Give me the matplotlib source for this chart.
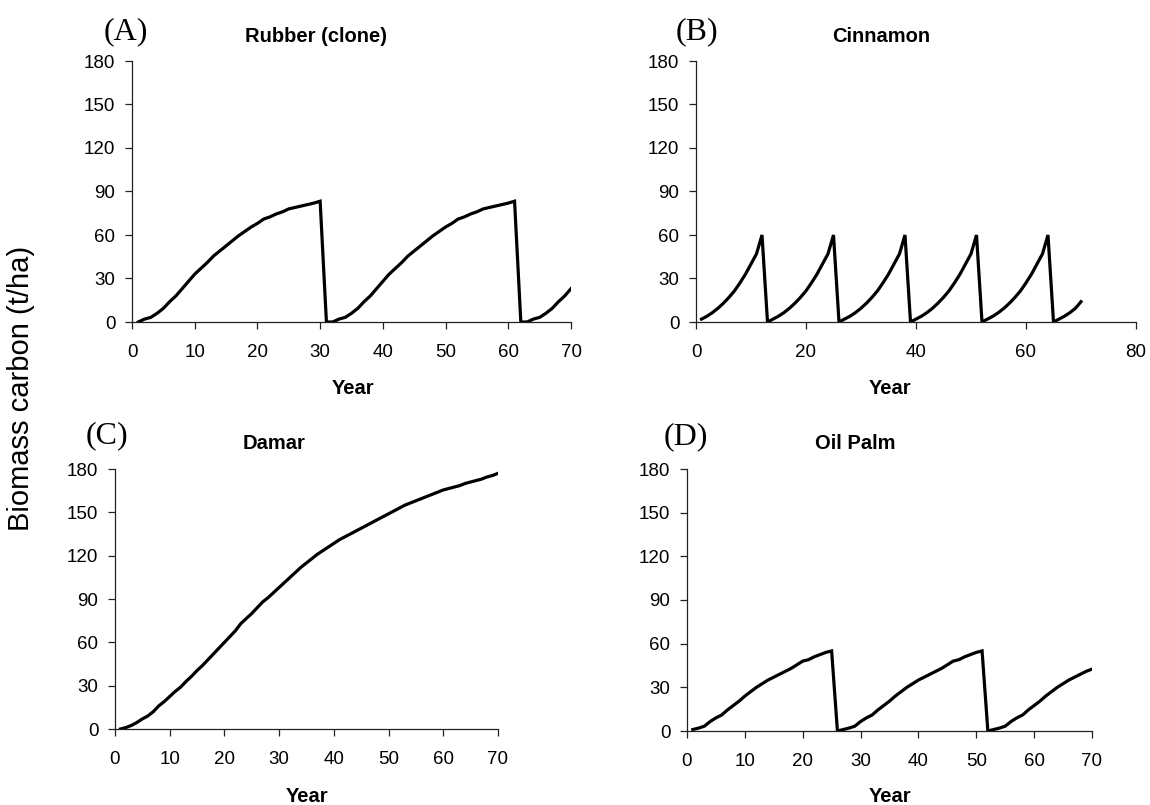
import matplotlib
matplotlib.use("Agg")
import matplotlib.pyplot as plt

plt.rcParams['font.family'] = ['Liberation Sans', 'DejaVu Sans']

years = list(range(1, 71))

rubber = [0, 2, 3.2, 6, 9.4, 14, 18, 23, 28, 33, 37, 41, 45.5, 49, 52.5, 56, 59.5, 62.5, 65.5, 68,
          71, 72.5, 74.5, 76, 78, 79, 80, 81, 82, 83.3, 0,
          0, 2, 3.2, 6, 9.4, 14, 18, 23, 28, 33, 37, 41, 45.5, 49, 52.5, 56, 59.5, 62.5, 65.5, 68,
          71, 72.5, 74.5, 76, 78, 79, 80, 81, 82, 83.3, 0,
          0, 2, 3.2, 6, 9.4, 14, 18, 23]

cinnamon = [2, 4, 6.5, 9.5, 13, 17, 21.5, 27, 33, 40, 47, 60, 0,
            2, 4, 6.5, 9.5, 13, 17, 21.5, 27, 33, 40, 47, 60, 0,
            2, 4, 6.5, 9.5, 13, 17, 21.5, 27, 33, 40, 47, 60, 0,
            2, 4, 6.5, 9.5, 13, 17, 21.5, 27, 33, 40, 47, 60, 0,
            2, 4, 6.5, 9.5, 13, 17, 21.5, 27, 33, 40, 47, 60, 0,
            2, 4, 6.5, 9.5, 14]

damar = [0, 1, 2.5, 4.5, 7, 9, 12, 16, 19, 22.5, 26, 29, 33, 36.5, 40.5, 44, 48, 52, 56, 60,
         64, 68, 73, 76.5, 80, 84, 88, 91, 94.5, 98, 101.5, 105, 108.5, 112, 115, 118, 121, 123.5, 126, 128.5,
         131, 133, 135, 137, 139, 141, 143, 145, 147, 149, 151, 153, 155, 156.5, 158, 159.5, 161, 162.5, 164, 165.5,
         166.5, 167.5, 168.5, 170, 171, 172, 173, 174.5, 175.5, 177]

oil_palm = [1, 2, 3.3, 6.5, 9, 11, 14.5, 17.5, 20.5, 24, 27, 30, 32.5, 35, 37, 39, 41, 43, 45.5, 48,
            49, 51, 52.5, 54, 55, 0,
            1, 2, 3.3, 6.5, 9, 11, 14.5, 17.5, 20.5, 24, 27, 30, 32.5, 35, 37, 39, 41, 43, 45.5, 48,
            49, 51, 52.5, 54, 55, 0,
            1, 2, 3.3, 6.5, 9, 11, 14.5, 17.5, 20.5, 24, 27, 30, 32.5, 35, 37, 39, 41, 42.5]

panel_tags = ["(A)", "(B)", "(C)", "(D)"]
panel_titles = ["Rubber (clone)", "Cinnamon", "Damar", "Oil Palm"]
series = [rubber, cinnamon, damar, oil_palm]
x_maxes = [70, 80, 70, 70]
x_steps = [10, 20, 10, 10]
y_ticks = [0, 30, 60, 90, 120, 150, 180]
x_label = "Year"
y_label = "Biomass carbon (t/ha)"

W, H = 1150, 805
fig = plt.figure(figsize=(W / 100, H / 100), dpi=100)

def fx(p):
    return p / W

def fy(p):
    return 1 - p / H

# axes boxes in pixels: left, right, top, bottom
boxes = [(132, 571, 61, 322), (696, 1136, 61, 322), (115, 498, 469, 729), (687, 1092, 469, 731)]
tag_pos = [(126, 32), (697, 32), (107, 436), (686, 437)]
title_pos = [(316, 37), (881, 37), (274, 443), (855, 443)]
xlabel_pos = [(353, 388), (890, 388), (307, 796), (890, 796)]

for i in range(4):
    l, r, t, b = boxes[i]
    ax = fig.add_axes([fx(l), fy(b), fx(r - l), (b - t) / H])
    ax.plot(years, series[i], color='black', linewidth=2.3, solid_joinstyle='miter')
    ax.set_xlim(0, x_maxes[i])
    ax.set_ylim(0, 180)
    ax.set_xticks(list(range(0, x_maxes[i] + 1, x_steps[i])))
    ax.set_yticks(y_ticks)
    for s in ['top', 'right']:
        ax.spines[s].set_visible(False)
    for s in ['left', 'bottom']:
        ax.spines[s].set_color('#222222')
        ax.spines[s].set_linewidth(0.9)
    ax.tick_params(axis='both', direction='out', length=5, width=0.9, color='#222222',
                   labelsize=13.5, labelcolor='black')
    ax.tick_params(axis='x', pad=11)
    ax.tick_params(axis='y', pad=7)
    fig.text(fx(tag_pos[i][0]), fy(tag_pos[i][1]), panel_tags[i], family='Liberation Serif',
             fontsize=23, ha='center', va='center')
    fig.text(fx(title_pos[i][0]), fy(title_pos[i][1]), panel_titles[i], fontsize=14.5,
             fontweight='bold', ha='center', va='center')
    fig.text(fx(xlabel_pos[i][0]), fy(xlabel_pos[i][1]), x_label, fontsize=14.5,
             fontweight='bold', ha='center', va='center')

fig.text(fx(21), fy(388), y_label, rotation=90, fontsize=21, ha='center', va='center')

fig.savefig("out.png", dpi=100)
